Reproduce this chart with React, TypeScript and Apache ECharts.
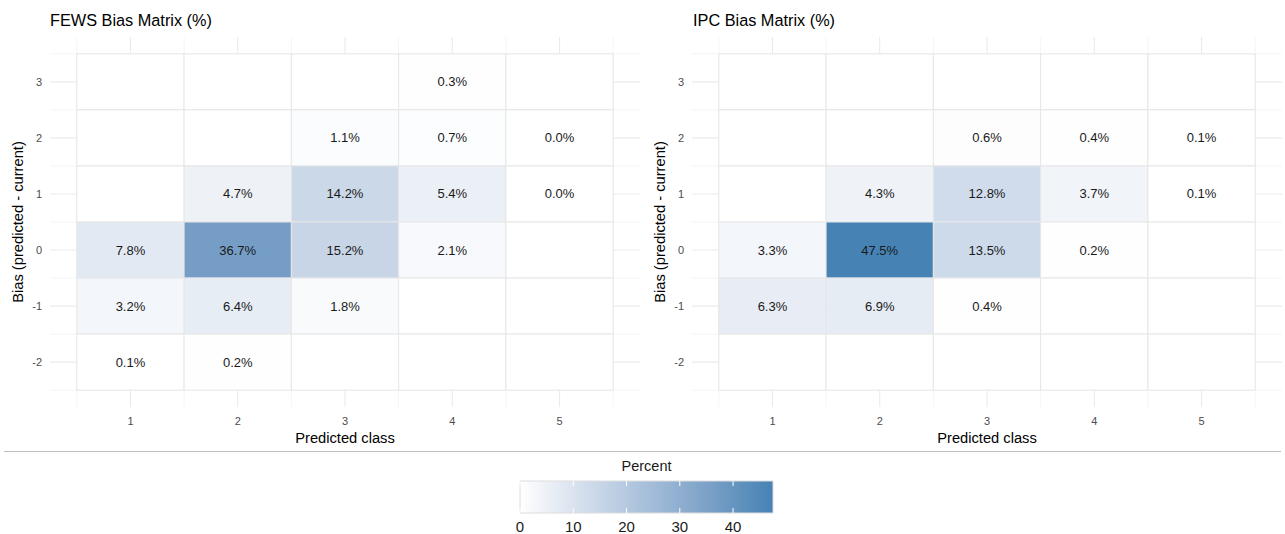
import React, { useEffect, useRef } from "react";
import * as echarts from "echarts";

const FONT = "'Liberation Sans', Arial, Helvetica, sans-serif";

// Axes
const predictedClasses = [1, 2, 3, 4, 5];
const biasLevels = [3, 2, 1, 0, -1, -2];

// Values (%), rows = bias levels (3 .. -2), columns = predicted class (1 .. 5); null = no observation
const fewsValues: (number | null)[][] = [
  [null, null, null, 0.3, null],
  [null, null, 1.1, 0.7, 0.0],
  [null, 4.7, 14.2, 5.4, 0.0],
  [7.8, 36.7, 15.2, 2.1, null],
  [3.2, 6.4, 1.8, null, null],
  [0.1, 0.2, null, null, null],
];
const ipcValues: (number | null)[][] = [
  [null, null, null, null, null],
  [null, null, 0.6, 0.4, 0.1],
  [null, 4.3, 12.8, 3.7, 0.1],
  [3.3, 47.5, 13.5, 0.2, null],
  [6.3, 6.9, 0.4, null, null],
  [null, null, null, null, null],
];

const panelTitles = ["FEWS Bias Matrix (%)", "IPC Bias Matrix (%)"];
const xAxisTitle = "Predicted class";
const yAxisTitle = "Bias (predicted - current)";
const legendTitle = "Percent";
const legendTicks = [0, 10, 20, 30, 40];
const colorStops = ["#ffffff", "#d3deec", "#a7bfda", "#7aa0c7", "#4682b4"];

const allValues = [...fewsValues.flat(), ...ipcValues.flat()].filter(
  (v): v is number => v !== null
);
const legendMax = Math.max(...allValues);

// ggplot-like expanded limits
const xLo = Math.min(...predictedClasses) - 0.5;
const xHi = Math.max(...predictedClasses) + 0.5;
const yLo = Math.min(...biasLevels) - 0.5;
const yHi = Math.max(...biasLevels) + 0.5;
const xPad = 0.05 * (xHi - xLo);
const yPad = 0.05 * (yHi - yLo);
const X_MIN = xLo - xPad;
const X_MAX = xHi + xPad;
const Y_MIN = +(yLo - yPad).toFixed(4);
const Y_MAX = +(yHi + yPad).toFixed(4);

function buildCells(matrix: (number | null)[][]) {
  const out: number[][] = [];
  biasLevels.forEach((b, r) => {
    predictedClasses.forEach((c, ci) => {
      const v = matrix[r][ci];
      out.push([c, b, v === null ? 0 : v, v === null ? 0 : 1]);
    });
  });
  return out;
}

function buildGridLines() {
  const out: number[][] = [];
  predictedClasses.forEach((c) => out.push([c, 0, 1]));
  [predictedClasses[0] - 0.5, ...predictedClasses.map((c) => c + 0.5)].forEach((c) =>
    out.push([c, 0, 0])
  );
  biasLevels.forEach((b) => out.push([b, 1, 1]));
  [Math.min(...biasLevels) - 0.5, ...biasLevels.map((b) => b + 0.5)].forEach((b) =>
    out.push([b, 1, 0])
  );
  return out;
}

function isInt(v: number) {
  return Math.abs(v - Math.round(v)) < 1e-6;
}

export default function App() {
  const ref = useRef<HTMLDivElement>(null);

  useEffect(() => {
    document.body.style.margin = "0";
    if (!ref.current) return;
    const chart = echarts.init(ref.current, null, { renderer: "svg" });

    const gridLineSeries = (idx: number) => ({
      type: "custom",
      xAxisIndex: idx,
      yAxisIndex: idx,
      z: 1,
      silent: true,
      data: buildGridLines(),
      renderItem: (params: any, api: any) => {
        const pos = api.value(0);
        const orient = api.value(1);
        const major = api.value(2);
        let p1, p2;
        if (orient === 0) {
          p1 = api.coord([pos, Y_MIN]);
          p2 = api.coord([pos, Y_MAX]);
        } else {
          p1 = api.coord([X_MIN, pos]);
          p2 = api.coord([X_MAX, pos]);
        }
        return {
          type: "line",
          shape: { x1: p1[0], y1: p1[1], x2: p2[0], y2: p2[1] },
          style: { stroke: "#ebebeb", lineWidth: major ? 1.1 : 0.55 },
        };
      },
    });

    const tileSeries = (idx: number, matrix: (number | null)[][]) => ({
      type: "custom",
      xAxisIndex: idx,
      yAxisIndex: idx,
      z: 2,
      data: buildCells(matrix),
      encode: { x: 0, y: 1 },
      renderItem: (params: any, api: any) => {
        const x = api.value(0);
        const y = api.value(1);
        const v = api.value(2);
        const has = api.value(3);
        const c = api.coord([x, y]);
        const s = api.size([1, 1]);
        const children: any[] = [
          {
            type: "rect",
            shape: { x: c[0] - s[0] / 2, y: c[1] - s[1] / 2, width: s[0], height: s[1] },
            style: { fill: api.visual("color"), stroke: "#e6e6e6", lineWidth: 1 },
          },
        ];
        if (has) {
          children.push({
            type: "text",
            x: c[0],
            y: c[1],
            style: {
              text: v.toFixed(1) + "%",
              align: "center",
              verticalAlign: "middle",
              fill: "#1a1a1a",
              fontSize: 13,
              fontFamily: FONT,
            },
          });
        }
        return { type: "group", children };
      },
    });

    const xAxisFor = (idx: number) => ({
      type: "value",
      gridIndex: idx,
      min: X_MIN,
      max: X_MAX,
      interval: 0.25,
      axisLine: { show: false },
      axisTick: { show: false },
      splitLine: { show: false },
      axisLabel: {
        margin: 8,
        fontSize: 11,
        color: "#4d4d4d",
        fontFamily: FONT,
        formatter: (v: number) =>
          isInt(v) && predictedClasses.includes(Math.round(v)) ? String(Math.round(v)) : "",
      },
      name: xAxisTitle,
      nameLocation: "middle",
      nameGap: 21,
      nameTextStyle: { fontSize: 14.7, color: "#000", fontFamily: FONT },
    });

    const yAxisFor = (idx: number) => ({
      type: "value",
      gridIndex: idx,
      min: Y_MIN,
      max: Y_MAX,
      interval: 0.2,
      axisLine: { show: false },
      axisTick: { show: false },
      splitLine: { show: false },
      axisLabel: {
        margin: 8,
        fontSize: 11,
        color: "#4d4d4d",
        fontFamily: FONT,
        formatter: (v: number) =>
          isInt(v) && biasLevels.includes(Math.round(v)) ? String(Math.round(v)) : "",
      },
      name: yAxisTitle,
      nameLocation: "middle",
      nameGap: 25,
      nameRotate: 90,
      nameTextStyle: { fontSize: 14.7, color: "#000", fontFamily: FONT },
    });

    const option: any = {
      animation: false,
      backgroundColor: "#ffffff",
      title: panelTitles.map((t, i) => ({
        text: t,
        left: i === 0 ? 50 : 693,
        top: 12,
        padding: 0,
        textStyle: { fontSize: 16.3, fontWeight: "normal", color: "#000", fontFamily: FONT },
      })),
      grid: [
        { left: 50, top: 37, width: 590, height: 370 },
        { left: 692, top: 37, width: 590, height: 370 },
        { left: 520, top: 481, width: 253, height: 33 },
      ],
      xAxis: [
        xAxisFor(0),
        xAxisFor(1),
        {
          type: "value",
          gridIndex: 2,
          min: 0,
          max: legendMax,
          interval: 10,
          axisLine: { show: false },
          axisTick: { show: false },
          splitLine: { show: false },
          axisLabel: {
            margin: 6,
            fontSize: 15,
            color: "#1a1a1a",
            fontFamily: FONT,
            formatter: (v: number) => (legendTicks.includes(v) ? String(v) : ""),
          },
        },
      ],
      yAxis: [
        yAxisFor(0),
        yAxisFor(1),
        { type: "value", gridIndex: 2, min: 0, max: 1, show: false },
      ],
      visualMap: {
        type: "continuous",
        show: false,
        min: 0,
        max: legendMax,
        dimension: 2,
        seriesIndex: [2, 3],
        inRange: { color: colorStops },
      },
      graphic: [
        {
          type: "line",
          shape: { x1: 4, y1: 451.5, x2: 1281, y2: 451.5 },
          style: { stroke: "#bdbdbd", lineWidth: 1 },
        },
        {
          type: "text",
          x: 646.5,
          y: 466,
          style: {
            text: legendTitle,
            align: "center",
            verticalAlign: "middle",
            fontSize: 14.5,
            fill: "#1a1a1a",
            fontFamily: FONT,
          },
        },
      ],
      series: [
        gridLineSeries(0),
        gridLineSeries(1),
        tileSeries(0, fewsValues),
        tileSeries(1, ipcValues),
        {
          type: "custom",
          xAxisIndex: 2,
          yAxisIndex: 2,
          silent: true,
          data: [[0, 0]],
          renderItem: (params: any, api: any) => {
            const p0 = api.coord([0, 0]);
            const p1 = api.coord([legendMax, 1]);
            return {
              type: "rect",
              shape: { x: p0[0], y: p1[1], width: p1[0] - p0[0], height: p0[1] - p1[1] },
              style: {
                fill: {
                  type: "linear",
                  x: 0,
                  y: 0,
                  x2: 1,
                  y2: 0,
                  colorStops: colorStops.map((c, i) => ({
                    offset: i / (colorStops.length - 1),
                    color: c,
                  })),
                },
                stroke: "#dcdcdc",
                lineWidth: 1,
              },
            };
          },
        },
        {
          type: "custom",
          xAxisIndex: 2,
          yAxisIndex: 2,
          silent: true,
          z: 3,
          data: legendTicks.map((t) => [t, 0]),
          renderItem: (params: any, api: any) => {
            const t = api.value(0);
            const b = api.coord([t, 0]);
            const top = api.coord([t, 1]);
            const len = 5;
            return {
              type: "group",
              children: [
                {
                  type: "line",
                  shape: { x1: b[0], y1: b[1], x2: b[0], y2: b[1] - len },
                  style: { stroke: "#ffffff", lineWidth: 1 },
                },
                {
                  type: "line",
                  shape: { x1: top[0], y1: top[1], x2: top[0], y2: top[1] + len },
                  style: { stroke: "#ffffff", lineWidth: 1 },
                },
              ],
            };
          },
        },
      ],
    };

    chart.setOption(option);
    return () => chart.dispose();
  }, []);

  return <div ref={ref} style={{ width: 1285, height: 534 }} />;
}
